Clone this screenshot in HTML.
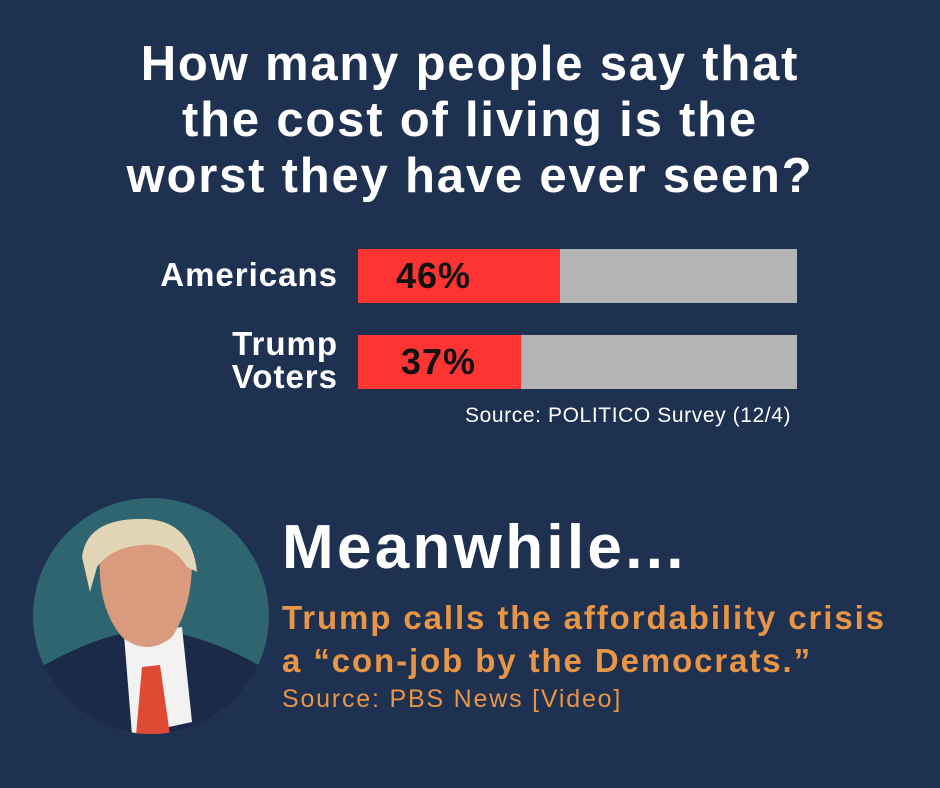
<!DOCTYPE html>
<html><head><style>
body{margin:0;width:940px;height:788px;background:#1f3150;overflow:hidden;position:relative;font-family:"Liberation Sans",sans-serif}
.t{position:absolute;left:0;width:940px;text-align:center;color:#fff;font-weight:bold;font-size:49px;line-height:56px;top:36px;letter-spacing:1.8px}
.lab{position:absolute;color:#fff;font-weight:bold;font-size:33px;text-align:right;right:602px;line-height:33px;letter-spacing:1px}
.bar{position:absolute;left:358px;width:439px;height:54px;background:#b4b4b4}
.bar div{position:absolute;left:0;top:0;height:54px;background:#fe3432}
.bar span{position:absolute;top:0;line-height:54px;font-weight:bold;font-size:36px;color:#111;letter-spacing:1px}
.a{position:absolute;font-weight:bold;white-space:nowrap}
</style></head><body>
<div class="t">How many people say that<br>the cost of living is the<br>worst they have ever seen?</div>
<div class="lab" style="top:258px">Americans</div>
<div class="lab" style="top:327px">Trump<br>Voters</div>
<div class="bar" style="top:249px"><div style="width:202px"></div><span style="left:38px">46%</span></div>
<div class="bar" style="top:335px"><div style="width:163px"></div><span style="left:43px">37%</span></div>
<div class="a" style="left:465px;top:404px;font-weight:normal;color:#fff;font-size:21px;letter-spacing:0.6px">Source: POLITICO Survey (12/4)</div>
<svg style="position:absolute;left:32px;top:497px" width="238" height="238" viewBox="0 0 238 238">
<defs><clipPath id="c"><circle cx="119" cy="119" r="118"/></clipPath></defs>
<circle cx="119" cy="119" r="118" fill="#2f6570"/>
<g clip-path="url(#c)">
<path d="M0 175 Q60 140 100 135 L140 135 Q190 145 238 175 L238 238 L0 238Z" fill="#1c2a4a"/>
<path d="M92 138 L150 130 L160 225 L100 238Z" fill="#f2f2f2"/>
<path d="M110 170 L128 168 L138 238 L104 238Z" fill="#e04a35"/>
<path d="M68 60 Q65 110 90 140 Q115 160 140 140 Q160 110 160 65 Q150 45 110 45 Q75 48 68 60Z" fill="#d99a7e"/>
<path d="M50 60 Q55 20 115 22 Q160 25 165 75 L155 70 Q140 45 110 48 Q80 50 65 70 L58 95Z" fill="#e3d6b6"/>
</g></svg>
<div class="a" style="left:282px;top:512px;color:#fff;font-size:62px;letter-spacing:3.3px">Meanwhile...</div>
<div class="a" style="left:282px;top:596px;color:#e89545;font-size:33px;line-height:43px;letter-spacing:1.9px">Trump calls the affordability crisis<br>a “con-job by the Democrats.”</div>
<div class="a" style="left:282px;top:685px;color:#e89545;font-size:25px;font-weight:normal;letter-spacing:1.8px">Source: PBS News [Video]</div>
</body></html>
